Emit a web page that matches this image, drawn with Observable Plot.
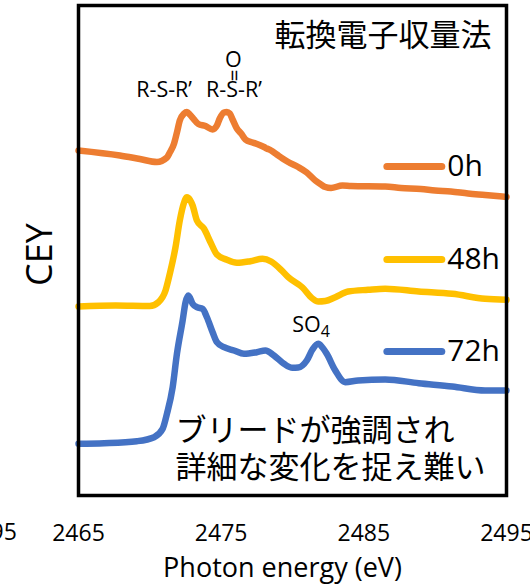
<!DOCTYPE html>
<html>
<head>
<meta charset="utf-8">
<script src="https://cdn.jsdelivr.net/npm/d3@7"></script>
<script src="https://cdn.jsdelivr.net/npm/@observablehq/plot@0.6"></script>
<style>
  body { margin: 0; background: #fff; }
  #chart { position: relative; width: 530px; height: 585px; overflow: hidden; }
</style>
</head>
<body>
<div id="chart"></div>
<script>
// S K-edge XANES, conversion electron yield, offset spectra after 0 / 48 / 72 h
const seriesNames = ["0h", "48h", "72h"];
const xTicks = [2465, 2475, 2485, 2495];

const energy0h = [2465.0, 2467.9, 2469.3, 2470.5, 2471.2, 2471.4, 2471.7, 2471.9, 2472.1, 2472.4,
  2472.6, 2472.8, 2473.1, 2473.4, 2473.9, 2474.4, 2474.7, 2474.9, 2475.2, 2475.4, 2475.6, 2475.8,
  2476.1, 2476.4, 2476.7, 2477.2, 2477.6, 2478.0, 2478.2, 2478.5, 2478.9, 2479.3, 2479.7, 2480.4,
  2481.0, 2481.6, 2482.0, 2482.3, 2482.7, 2483.5, 2484.1, 2486.5, 2487.6, 2489.0, 2490.0, 2491.1,
  2492.3, 2493.5, 2495.0];
const cey0h = [3.45, 3.40, 3.365, 3.335, 3.38, 3.43, 3.52, 3.63, 3.75, 3.82,
  3.835, 3.81, 3.76, 3.715, 3.695, 3.66, 3.70, 3.77, 3.83, 3.835, 3.82, 3.76,
  3.67, 3.62, 3.56, 3.53, 3.51, 3.485, 3.47, 3.45, 3.41, 3.37, 3.335, 3.285,
  3.23, 3.15, 3.11, 3.085, 3.075, 3.10, 3.095, 3.09, 3.075, 3.065, 3.05, 3.04,
  3.02, 3.005, 2.985];

const energy48h = [2465.0, 2467.6, 2470.0, 2470.6, 2471.1, 2471.4, 2471.8, 2472.1, 2472.4, 2472.6,
  2472.8, 2473.0, 2473.3, 2473.8, 2474.25, 2474.7, 2475.4, 2476.1, 2477.05, 2477.9, 2478.5, 2479.2,
  2479.7, 2480.7, 2481.4, 2481.8, 2482.3, 2483.0, 2483.9, 2485.3, 2486.5, 2488.85, 2491.2, 2493.5,
  2495.0];
const cey48h = [1.89, 1.90, 1.895, 1.933, 2.05, 2.217, 2.483, 2.75, 2.93, 2.983,
  2.96, 2.90, 2.75, 2.667, 2.533, 2.41, 2.357, 2.327, 2.343, 2.367, 2.34, 2.257,
  2.183, 2.08, 1.97, 1.94, 1.945, 1.983, 2.04, 2.057, 2.067, 2.04, 2.017, 1.967,
  1.957];

const energy72h = [2465.0, 2466.8, 2469.1, 2470.3, 2470.9, 2471.2, 2471.6, 2471.9, 2472.3, 2472.5,
  2472.7, 2473.0, 2473.3, 2473.7, 2474.0, 2474.4, 2474.7, 2475.2, 2475.9, 2476.6, 2477.5, 2478.1,
  2478.7, 2479.4, 2480.0, 2480.4, 2481.0, 2481.4, 2481.8, 2482.1, 2482.4, 2483.0, 2483.7, 2484.6,
  2486.5, 2488.85, 2491.2, 2493.5, 2495.0];
const cey72h = [0.517, 0.523, 0.543, 0.583, 0.667, 0.817, 1.083, 1.417, 1.75, 1.93,
  2.00, 1.917, 1.883, 1.867, 1.783, 1.633, 1.533, 1.483, 1.45, 1.417, 1.433, 1.45,
  1.40, 1.317, 1.277, 1.28, 1.35, 1.46, 1.517, 1.48, 1.417, 1.25, 1.133, 1.15,
  1.16, 1.123, 1.09, 1.05, 1.05];

const seriesEnergy = [energy0h, energy48h, energy72h];
const seriesCey = [cey0h, cey48h, cey72h];

const rows = seriesNames.flatMap((name, s) =>
  seriesEnergy[s].map((e, i) => ({series: name, energy: e, cey: seriesCey[s][i]}))
);

// legend row heights inside the frame (CEY units)
const legendAt = {"0h": 3.29, "48h": 2.36, "72h": 1.44};
const jp = "'Noto Sans CJK JP', sans-serif";

const chart = Plot.plot({
  width: 530,
  height: 585,
  marginLeft: 78,
  marginRight: 24,
  marginTop: 5,
  marginBottom: 90,
  style: {fontFamily: "'Open Sans', sans-serif", background: "#fff", color: "#000", overflow: "visible"},
  x: {domain: [2465, 2495]},
  y: {domain: [0, 4.9], axis: null},
  color: {domain: seriesNames, range: ["#ED7D31", "#FFC000", "#4472C4"]},
  marks: [
    Plot.line(rows, {
      x: "energy", y: "cey", z: "series", stroke: "series",
      strokeWidth: 6.5, curve: "monotone-x", strokeLinejoin: "round", strokeLinecap: "round"
    }),
    Plot.frame({stroke: "#000", strokeWidth: 3.5}),
    Plot.axisX({ticks: xTicks, tickSize: 0, tickPadding: 29, fontSize: 23, tickFormat: "d", label: null, fill: "#000"}),
    // legend
    Plot.ruleY(seriesNames, {
      y: d => legendAt[d], x1: () => 2486.65, x2: () => 2490.5,
      stroke: d => d, strokeWidth: 7, strokeLinecap: "round"
    }),
    Plot.text(seriesNames, {
      x: () => 2490.85, y: d => legendAt[d], text: d => d,
      textAnchor: "start", lineAnchor: "middle", fontSize: 30, fill: "#000"
    }),
    // peak assignments
    Plot.text([{e: 2471.0, v: 4.05, t: "R-S-R’"}, {e: 2475.9, v: 4.05, t: "R-S-R’"},
               {e: 2475.85, v: 4.35, t: "O"}],
      {x: "e", y: "v", text: "t", fontSize: 21.5, textAnchor: "middle", lineAnchor: "middle", fill: "#000"}),
    Plot.text([{e: 2475.85, v: 4.2, t: "="}],
      {x: "e", y: "v", text: "t", rotate: 90, fontSize: 21, textAnchor: "middle", lineAnchor: "middle", fill: "#000"}),
    Plot.text([{e: 2481.3, v: 1.70, t: "SO4"}],
      {x: "e", y: "v", text: "t", fontSize: 21.5, textAnchor: "middle", lineAnchor: "middle", fill: "#000"}),
    // method title and remark
    Plot.text(["転換電子収量法"], {
      frameAnchor: "top-right", dx: -15, dy: 31, textAnchor: "end", lineAnchor: "middle",
      fontSize: 31, fontFamily: jp, fill: "#000"
    }),
    Plot.text([{e: 2471.8, v: 0.64, t: "ブリードが強調され"}, {e: 2471.8, v: 0.27, t: "詳細な変化を捉え難い"}], {
      x: "e", y: "v", text: "t", textAnchor: "start", lineAnchor: "middle",
      fontSize: 31, fontFamily: jp, fill: "#000"
    }),
    // axis titles
    Plot.text(["CEY"], {
      frameAnchor: "left", dx: -38, dy: 4, rotate: -90, textAnchor: "middle", lineAnchor: "middle",
      fontSize: 36, fill: "#000"
    }),
    Plot.text(["Photon energy (eV)"], {
      frameAnchor: "bottom", dx: -10, dy: 73, textAnchor: "middle", lineAnchor: "middle",
      fontSize: 27, fill: "#000"
    }),
    // trailing tick label of the neighbouring panel
    Plot.text(["2495"], {
      frameAnchor: "bottom-left", dx: -88, dy: 37, textAnchor: "middle", lineAnchor: "middle",
      fontSize: 23, fill: "#000"
    })
  ]
});

// subscript for the sulfate label
d3.select(chart).selectAll("text").filter(function () { return this.textContent === "SO4"; })
  .each(function () {
    const t = d3.select(this);
    t.text("SO");
    t.append("tspan").attr("font-size", 16).attr("dy", "0.3em").text("4");
  });

document.getElementById("chart").appendChild(chart);
</script>
</body>
</html>
